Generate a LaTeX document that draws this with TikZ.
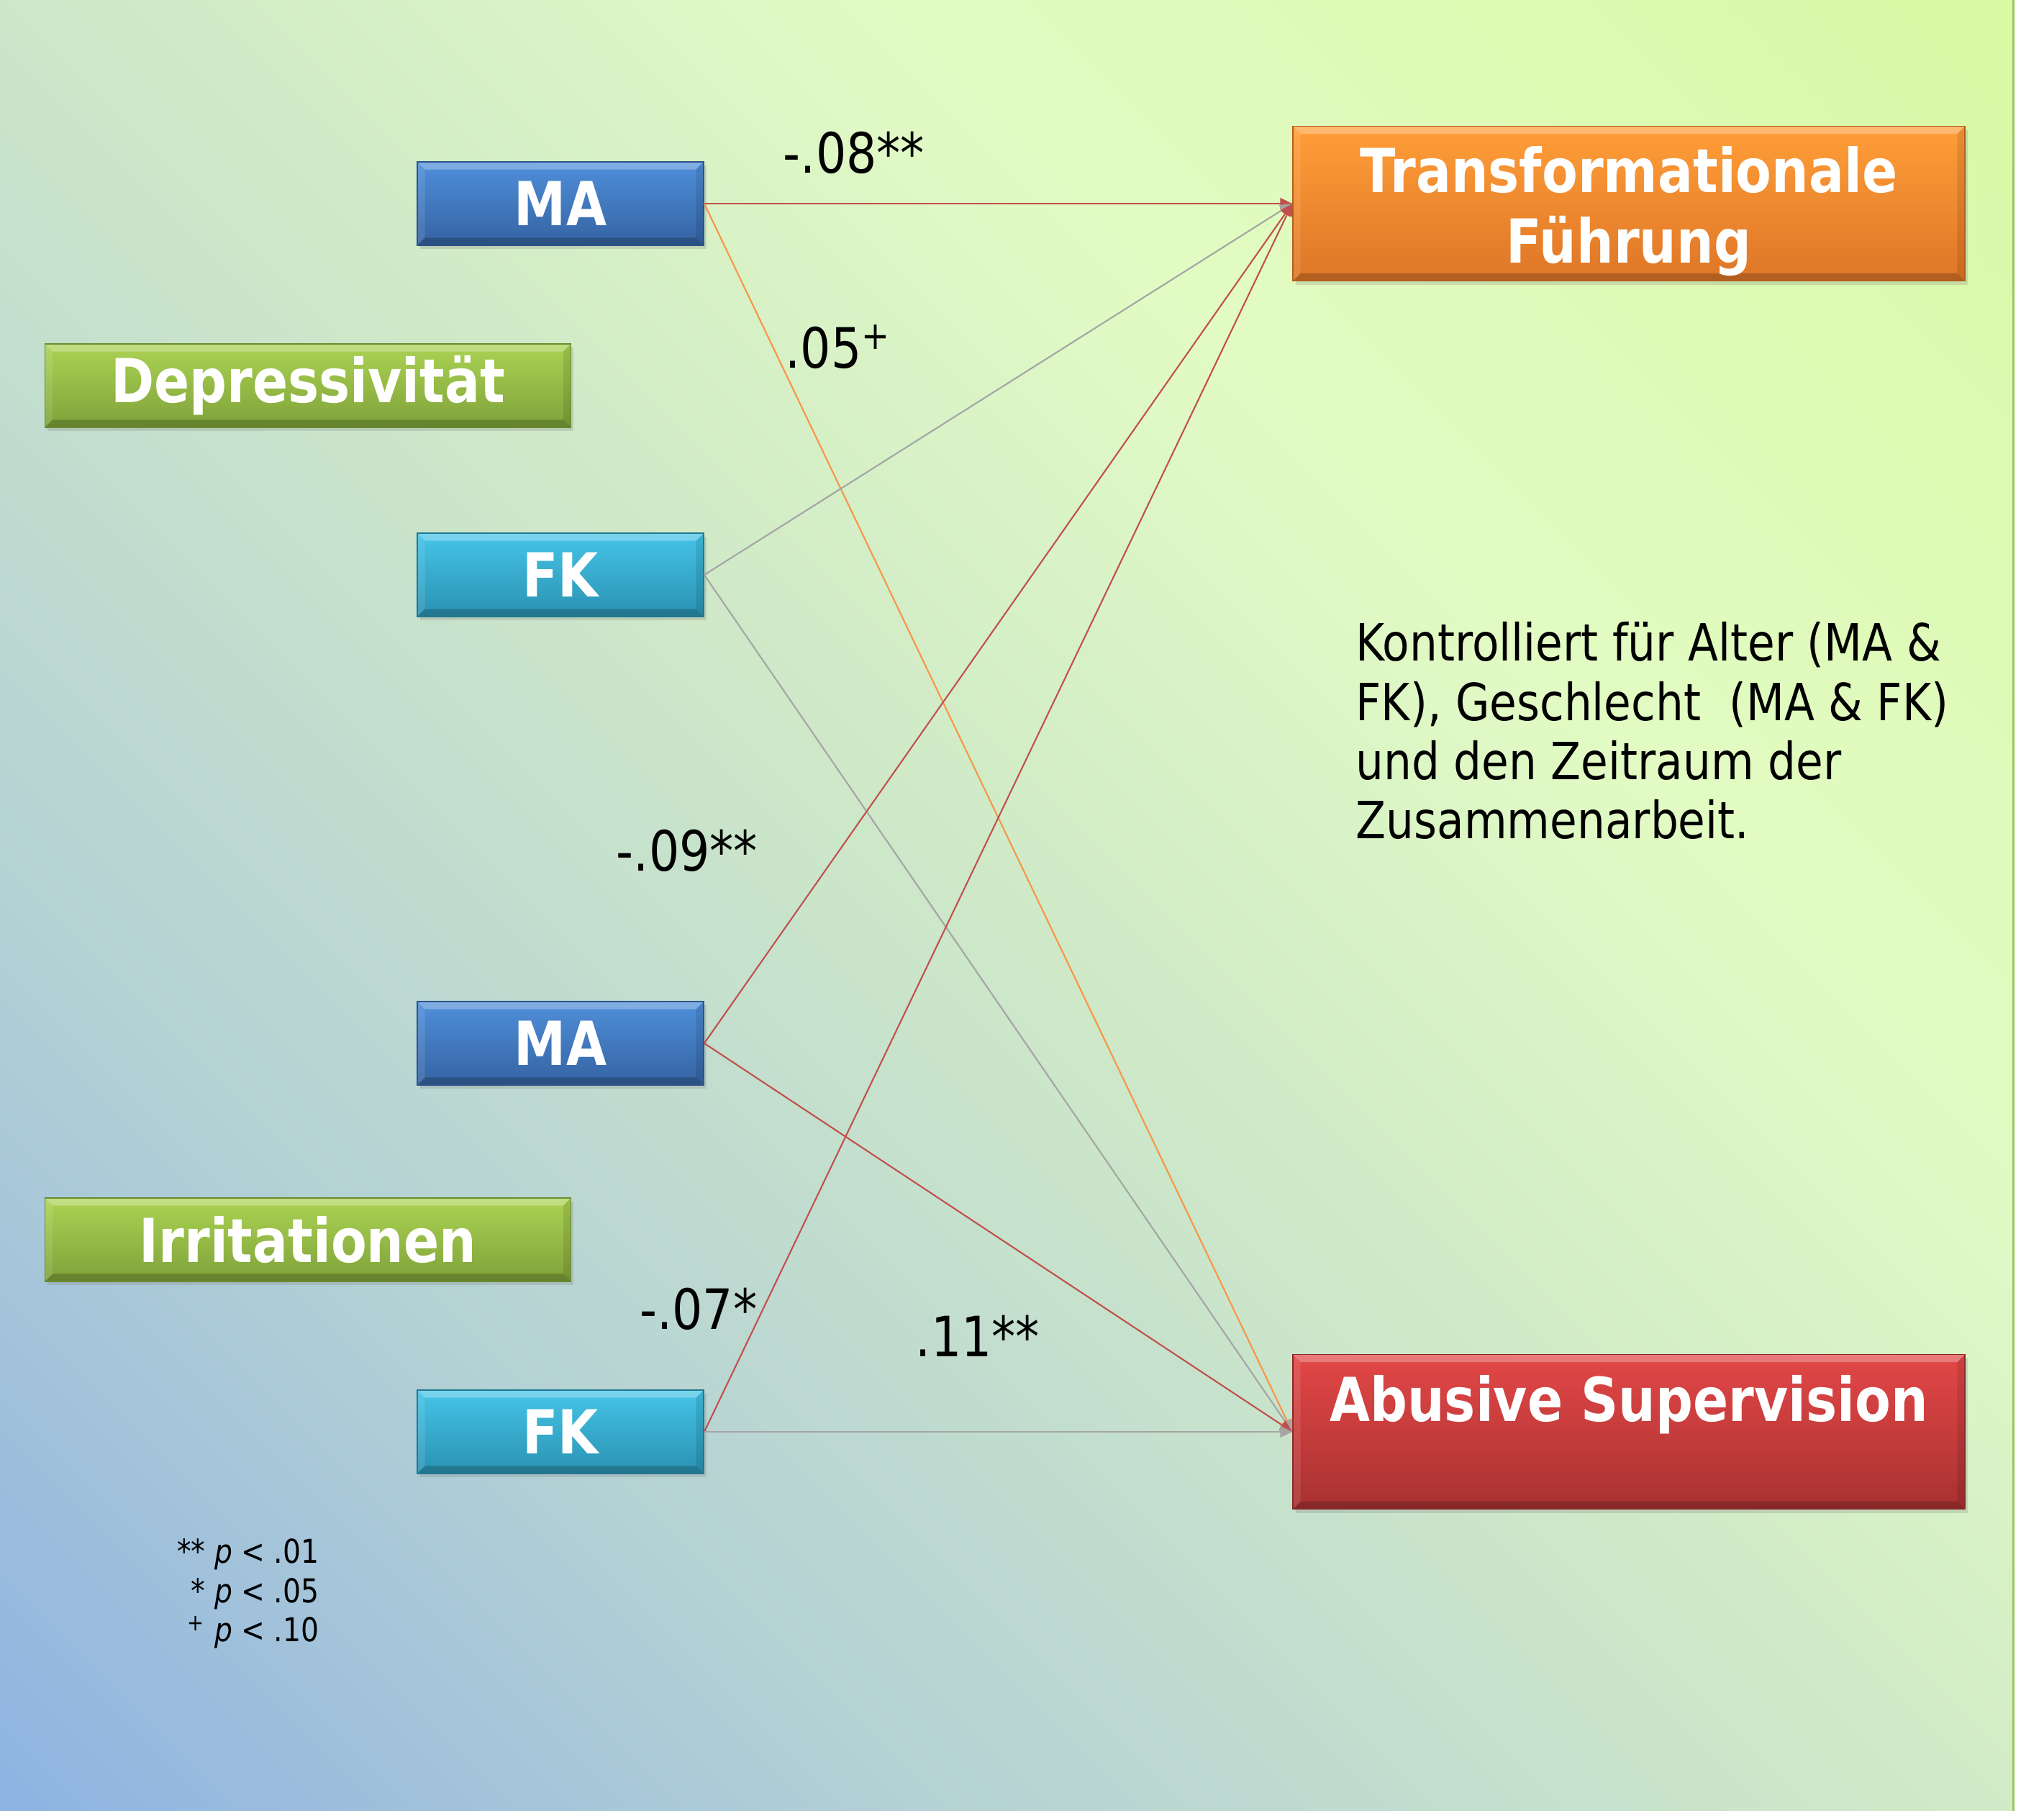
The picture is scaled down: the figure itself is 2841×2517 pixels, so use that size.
\documentclass[tikz,border=0pt]{standalone}
\usepackage{fontspec}
\setmainfont{DejaVu Sans}[FakeStretch=0.86]
\usetikzlibrary{arrows.meta,shadows}
\newdimen\pxu \pxu=0.28465pt
\definecolor{bgA}{HTML}{8DB3E2}
\definecolor{bgA2}{HTML}{A2C2DB}
\definecolor{bgB}{HTML}{B4D1D5}
\definecolor{bgC}{HTML}{CFE9C8}
\definecolor{bgD}{HTML}{E2FBC4}
\definecolor{bgE}{HTML}{D9F9A4}
\definecolor{edgeG}{HTML}{9DC55E}
\definecolor{maT}{HTML}{4F8FDA}
\definecolor{maB}{HTML}{3563A2}
\definecolor{maD}{HTML}{2C5487}
\definecolor{fkT}{HTML}{45C4E8}
\definecolor{fkB}{HTML}{2A92B2}
\definecolor{fkD}{HTML}{217890}
\definecolor{grT}{HTML}{ABD353}
\definecolor{grB}{HTML}{7FA23A}
\definecolor{grD}{HTML}{6B8A2E}
\definecolor{orT}{HTML}{FF9E38}
\definecolor{orB}{HTML}{DE7627}
\definecolor{orD}{HTML}{B35E1C}
\definecolor{rdT}{HTML}{E34747}
\definecolor{rdB}{HTML}{A83131}
\definecolor{rdD}{HTML}{8A2828}
\definecolor{arRed}{HTML}{C0504D}
\definecolor{arGrey}{HTML}{A5A5A5}
\definecolor{arOr}{HTML}{F79646}
\pgfdeclarehorizontalshading{bgshade}{100bp}{color(0bp)=(bgA); color(14.6bp)=(bgA); color(23.1bp)=(bgA2); color(31.6bp)=(bgB); color(50bp)=(bgC); color(64.1bp)=(bgD); color(85.4bp)=(bgE); color(100bp)=(bgE)}
\newcommand\mybevel{%
  \fill[white,opacity=0.28] (path picture bounding box.north west) -- (path picture bounding box.north east)
    -- ([shift={(-3pt,-3pt)}]path picture bounding box.north east) -- ([shift={(3pt,-3pt)}]path picture bounding box.north west) -- cycle;
  \fill[black,opacity=0.2] (path picture bounding box.south west) -- (path picture bounding box.south east)
    -- ([shift={(-3pt,3pt)}]path picture bounding box.south east) -- ([shift={(3pt,3pt)}]path picture bounding box.south west) -- cycle;
  \fill[black,opacity=0.1] (path picture bounding box.north east) -- (path picture bounding box.south east)
    -- ([shift={(-3pt,3pt)}]path picture bounding box.south east) -- ([shift={(-3pt,-3pt)}]path picture bounding box.north east) -- cycle;
  \fill[white,opacity=0.1] (path picture bounding box.north west) -- (path picture bounding box.south west)
    -- ([shift={(3pt,3pt)}]path picture bounding box.south west) -- ([shift={(3pt,-3pt)}]path picture bounding box.north west) -- cycle;
}
\tikzset{
  basebox/.style={line width=0.5pt, inner sep=0pt, text=white,
    font=\bfseries\fontsize{24}{28}\selectfont,
    drop shadow={opacity=0.25, shadow xshift=1pt, shadow yshift=-1.5pt},
    path picture={\mybevel}},
  smallbox/.style={basebox, minimum width=398\pxu, minimum height=116\pxu},
  mabox/.style={smallbox, top color=maT, bottom color=maB, draw=maD},
  fkbox/.style={smallbox, top color=fkT, bottom color=fkB, draw=fkD},
  grbox/.style={basebox, minimum width=731\pxu, minimum height=116\pxu, top color=grT, bottom color=grB, draw=grD},
  bigbox/.style={basebox, minimum width=934\pxu, minimum height=215\pxu, align=center},
  lab/.style={inner sep=0pt, font=\fontsize{22}{26}\selectfont},
  conn/.style={line width=0.6pt, -{Triangle[length=4.8pt,width=4.5pt]}},
}
\begin{document}
\begin{tikzpicture}[x=1\pxu, y=-1\pxu]
\useasboundingbox (0,0) rectangle (2841,2517);
\fill[white] (0,0) rectangle (2841,2517);
\shade[shading=bgshade, shading angle=45] (0,0) rectangle (2798,2517);
\draw[edgeG, line width=3\pxu] (2798,0) -- (2798,2517);

\node[mabox] (ma1) at (779,283) {MA};
\node[fkbox] (fk1) at (779,799) {FK};
\node[mabox] (ma2) at (779,1450) {MA};
\node[fkbox] (fk2) at (779,1990) {FK};
\node[grbox] (dep) at (428,536) {Depressivität};
\node[grbox] (irr) at (428,1723) {Irritationen};
\node[bigbox, top color=orT, bottom color=orB, draw=orD, text height=50pt, text depth=2.8pt] (tf) at (2264,283) {Transformationale\\Führung};
\node[bigbox, top color=rdT, bottom color=rdB, draw=rdD, text height=20pt, text depth=28.5pt] (as) at (2264,1990) {Abusive Supervision};

\draw[conn, arRed] (ma1.east) -- (tf.west);
\draw[conn, arOr] (ma1.east) -- (as.west);
\draw[conn, arGrey] (fk1.east) -- (tf.west);
\draw[conn, arGrey] (fk1.east) -- (as.west);
\draw[conn, arRed] (ma2.east) -- (tf.west);
\draw[conn, arRed] (ma2.east) -- (as.west);
\draw[conn, arRed] (fk2.east) -- (tf.west);
\draw[conn, arGrey] (fk2.east) -- (as.west);

\node[lab] (l1) at (1187,212) {-.08**};
\node[lab] (l2) at (1165,482) {.05\textsuperscript{+}};
\node[lab] (l3) at (955,1182) {-.09**};
\node[lab] (l4) at (971,1819) {-.07*};
\node[lab] (l5) at (1359,1857) {.11**};

\node[anchor=north west, align=left, inner sep=0pt, font=\fontsize{20.3}{23.4}\selectfont] (note) at (1884,864)
  {Kontrolliert für Alter (MA \&\\FK), Geschlecht\ \ (MA \& FK)\\und den Zeitraum der\\Zusammenarbeit.};

\node[anchor=east, align=right, inner sep=0pt, font=\fontsize{13}{15.5}\selectfont] (leg) at (444,2215)
  {** \textit{p} < .01\\{*} \textit{p} < .05\\\textsuperscript{+} \textit{p} < .10};
\end{tikzpicture}
\end{document}
